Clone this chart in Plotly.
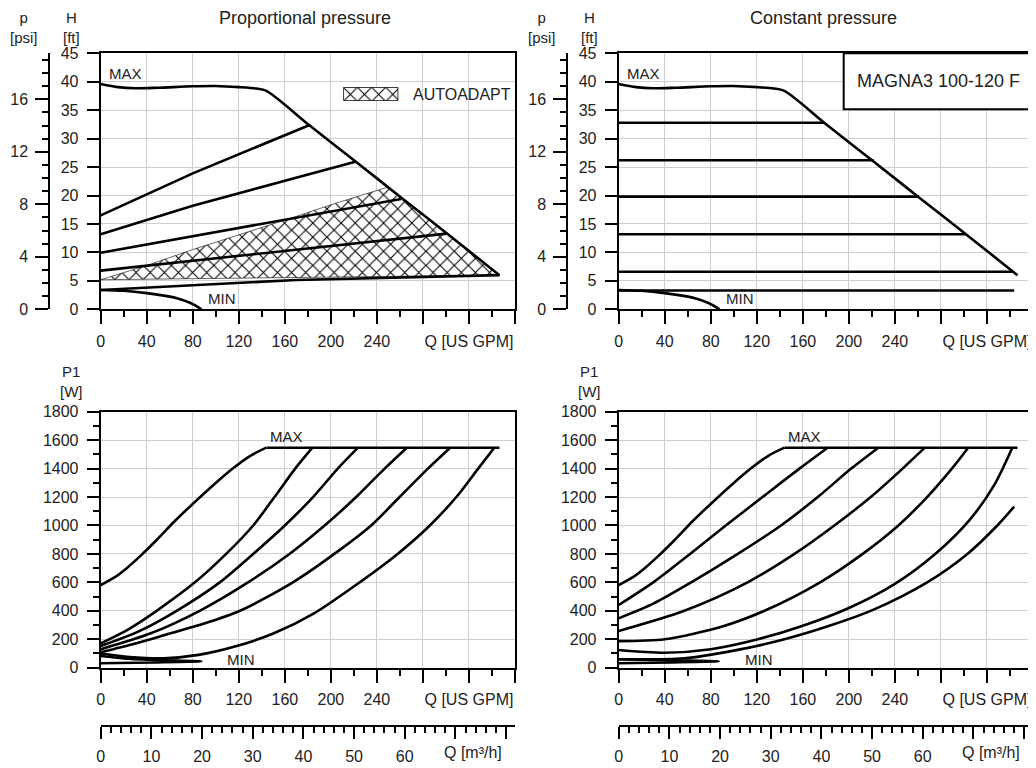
import plotly.graph_objects as go

# ---------------- data ----------------
# Q in US GPM, H in ft, P1 in W
Q_MAX = 360
FT_PER_PSI = 2.3067
GPM_PER_M3H = 4.4029

# H-Q, MAX curve (same on both top charts)
max_q = [0, 15, 30, 50, 80, 100, 120, 135, 144, 181.6, 222, 262.6, 301.7, 346.5]
max_h = [39.6, 39.05, 38.85, 38.95, 39.2, 39.25, 39.05, 38.8, 38.4, 32.3, 25.9, 19.4, 13.2, 6.0]

# H-Q, MIN curve
min_q = [0, 20, 40, 55, 67, 78, 87.6]
min_h = [3.4, 3.25, 2.85, 2.4, 1.9, 1.1, 0]

# proportional pressure curves
prop_q = [
    [0, 80, 181.6],
    [0, 80, 222],
    [0, 161, 261],
    [0, 150, 300.5],
    [0, 170, 346.5],
]
prop_h = [
    [16.5, 23.9, 32.4],
    [13.2, 18.2, 26.0],
    [9.95, 15.7, 19.4],
    [6.8, 10.1, 13.3],
    [3.4, 5.15, 6.0],
]

# AUTOADAPT area
auto_q = [0, 40, 80, 125, 165, 205, 250, 346.5, 0]
auto_h = [5.2, 7.7, 10.5, 13.4, 16.0, 18.7, 21.5, 6.0, 5.2]

# constant pressure curves
const_h = [32.8, 26.2, 19.8, 13.2, 6.6, 3.3]
const_q_end = [178.5, 221.5, 261, 301.5, 342, 343.6]

# P1-Q, MAX curve (rising part, then flat limit)
pmax_q = [0, 12, 22.6, 35, 48.6, 64, 80.4, 98, 115, 130, 144]
pmax_p = [581, 635, 700, 790, 898, 1028, 1155, 1285, 1402, 1490, 1547]
plim_q = [144, 346.5]
plim_p = [1547, 1547]

# P1-Q, proportional pressure
pprop_q = [
    [0, 24, 48.6, 81.9, 109, 132.5, 151, 169, 184],
    [0, 33, 66, 103.5, 132.5, 160, 184.5, 206, 223.6],
    [0, 43, 86, 128, 164, 194.6, 222, 246.7, 266],
    [0, 30, 60, 90, 121, 167, 203, 235, 259.7, 284.3, 303.7],
    [0, 25, 55, 85, 115, 150, 185, 225, 258, 286, 309, 328, 342],
]
pprop_p = [
    [171, 270, 400, 600, 800, 1000, 1200, 1400, 1547],
    [152, 255, 400, 600, 800, 1000, 1200, 1400, 1547],
    [130, 240, 400, 600, 800, 1000, 1200, 1400, 1547],
    [108, 170, 240, 310, 400, 600, 800, 1000, 1200, 1400, 1547],
    [100, 75, 66, 90, 145, 240, 380, 600, 800, 1000, 1200, 1400, 1547],
]

# P1-Q, constant pressure
pconst_q = [
    [0, 30, 62, 93, 125, 157, 181.6],
    [0, 30, 63, 103.5, 141, 173, 202, 225.6],
    [0, 57, 112, 152.7, 187.4, 219, 246.7, 266],
    [0, 40, 90, 126.7, 175, 212, 243, 268, 289.5, 303.7],
    [0, 40, 80, 121, 160, 200, 240, 275, 305, 326, 342],
    [0, 57, 100, 144, 185, 222, 268, 303, 329, 343.6],
]
pconst_p = [
    [441, 600, 800, 1000, 1200, 1400, 1547],
    [347, 450, 600, 800, 1000, 1200, 1400, 1547],
    [258, 400, 600, 800, 1000, 1200, 1400, 1547],
    [187, 200, 290, 400, 600, 800, 1000, 1200, 1400, 1547],
    [124, 105, 130, 200, 295, 420, 590, 800, 1040, 1280, 1547],
    [59, 66, 120, 200, 300, 410, 600, 800, 1000, 1132],
]

# P1-Q, MIN curve (closed wedge)
pmin_q_left = [0, 20, 45, 87.6, 45, 0]
pmin_p_left = [82, 65, 55, 45, 37, 31]
pmin_q_right = [0, 45, 87, 45, 0]
pmin_p_right = [59, 52, 45, 37, 31]

gpm_ticks = [0, 40, 80, 120, 160, 200, 240, 280, 320, 360]
gpm_text = ['0', '40', '80', '120', '160', '200', '240', '', 'Q [US GPM]', '']
m3h_ticks = [0, 10, 20, 30, 40, 50, 60, 70, 80]
m3h_text = ['0', '10', '20', '30', '40', '50', '60', '', '']

# ---------------- figure ----------------
# the page adds an 8 px body margin, so the figure is 8 px smaller and
# positions below are given in window pixels
PAGE = 8
W, H = 1036 - PAGE, 768 - PAGE
FONT = 'Liberation Sans, Arial, sans-serif'
TXT = '#222'


def px_x(p):
    return (p - PAGE) / W


def px_y(p):
    return 1 - (p - PAGE) / H


fig = go.Figure()


def curve(x, y, xa, ya, smooth=True):
    fig.add_trace(go.Scatter(
        x=x, y=y, mode='lines', xaxis=xa, yaxis=ya,
        line=dict(color='black', width=2.6,
                  shape='spline' if smooth else 'linear', smoothing=0.8),
        showlegend=False, hoverinfo='skip'
    ))


def ghost(x, y, xa, ya):
    # invisible trace that ties a secondary scale (psi, m3/h) to its subplot
    fig.add_trace(go.Scatter(x=x, y=y, xaxis=xa, yaxis=ya, mode='lines',
                             line=dict(width=0), opacity=0,
                             showlegend=False, hoverinfo='skip'))


# AUTOADAPT area (drawn first so the curves sit on top)
pattern = dict(shape='x', size=10, solidity=0.2, fgcolor='black', bgcolor='white')
fig.add_trace(go.Scatter(
    x=auto_q, y=auto_h, xaxis='x', yaxis='y', mode='lines',
    fill='toself', fillcolor='white', fillpattern=pattern,
    line=dict(color='black', width=0.6),
    name='AUTOADAPT', showlegend=False, hoverinfo='skip'
))

# top left: proportional pressure
curve(max_q, max_h, 'x', 'y')
curve(min_q, min_h, 'x', 'y')
for q, h in zip(prop_q, prop_h):
    curve(q, h, 'x', 'y', smooth=False)

# top right: constant pressure
curve(max_q, max_h, 'x2', 'y2')
curve(min_q, min_h, 'x2', 'y2')
for h, qe in zip(const_h, const_q_end):
    curve([0, qe], [h, h], 'x2', 'y2', smooth=False)

# bottom left: power, proportional
curve(pmax_q, pmax_p, 'x3', 'y3')
curve(plim_q, plim_p, 'x3', 'y3', smooth=False)
for q, p in zip(pprop_q, pprop_p):
    curve(q, p, 'x3', 'y3')
curve(pmin_q_left, pmin_p_left, 'x3', 'y3')

# bottom right: power, constant
curve(pmax_q, pmax_p, 'x4', 'y4')
curve(plim_q, plim_p, 'x4', 'y4', smooth=False)
for q, p in zip(pconst_q, pconst_p):
    curve(q, p, 'x4', 'y4')
curve(pmin_q_right, pmin_p_right, 'x4', 'y4')

# secondary scales
max_psi = [h / FT_PER_PSI for h in max_h]
ghost(max_q, max_psi, 'x', 'y5')
ghost(max_q, max_psi, 'x2', 'y6')
plim_m3h = [q / GPM_PER_M3H for q in plim_q]
ghost(plim_m3h, plim_p, 'x5', 'y3')
ghost(plim_m3h, plim_p, 'x6', 'y4')

# legend key for AUTOADAPT (unit square on its own hidden axes)
fig.add_trace(go.Scatter(
    x=[0, 1, 1, 0, 0], y=[0, 0, 1, 1, 0], xaxis='x7', yaxis='y7', mode='lines',
    fill='toself', fillcolor='white', fillpattern=pattern,
    line=dict(color='black', width=1.5), showlegend=False, hoverinfo='skip'
))

# ---------------- axes ----------------
XL = [px_x(100.7), px_x(515)]
XR = [px_x(618.7), px_x(1033)]
YT = [px_y(309.3), px_y(53.3)]
YB = [px_y(667.7), px_y(411.7)]

tickfont = dict(family=FONT, size=16, color=TXT)
grid = '#cfcfcf'


def gpm_axis(domain, anchor):
    return dict(
        domain=domain, anchor=anchor, range=[0, Q_MAX],
        tickvals=gpm_ticks, ticktext=gpm_text,
        showgrid=True, gridcolor=grid, gridwidth=1,
        showline=True, linecolor='black', linewidth=2, mirror=True,
        ticks='outside', ticklen=13, tickwidth=2, tickcolor='black',
        minor=dict(dtick=20, ticks='outside', ticklen=6, tickwidth=1.5,
                   tickcolor='black', showgrid=False),
        tickfont=tickfont, ticklabelstandoff=3, zeroline=False,
        automargin=False, fixedrange=True
    )


def val_axis(domain, anchor, rng, dtick, minor=None):
    ax = dict(
        domain=domain, anchor=anchor, range=rng, dtick=dtick, tick0=0,
        showgrid=True, gridcolor=grid, gridwidth=1,
        showline=True, linecolor='black', linewidth=2, mirror=True,
        ticks='outside', ticklen=12, tickwidth=2, tickcolor='black',
        tickfont=tickfont, ticklabelstandoff=5, zeroline=False,
        automargin=False, fixedrange=True
    )
    if minor:
        ax['minor'] = dict(dtick=minor, ticks='outside', ticklen=6, tickwidth=1.5,
                           tickcolor='black', showgrid=False)
    return ax


def psi_axis(overlay, pos):
    return dict(
        overlaying=overlay, anchor='free', position=pos, side='left',
        range=[0, 45 / FT_PER_PSI], tickvals=[0, 4, 8, 12, 16],
        showgrid=False, showline=True, linecolor='black', linewidth=2,
        ticks='outside', ticklen=13, tickwidth=2, tickcolor='black',
        minor=dict(dtick=1, ticks='outside', ticklen=6, tickwidth=1.5, tickcolor='black'),
        tickfont=tickfont, ticklabelstandoff=4, zeroline=False,
        automargin=False, fixedrange=True
    )


def m3h_axis(overlay):
    return dict(
        overlaying=overlay, anchor='free', position=px_y(725.7), side='bottom',
        range=[0, Q_MAX / GPM_PER_M3H], tickvals=m3h_ticks, ticktext=m3h_text,
        showgrid=False, showline=True, linecolor='black', linewidth=2,
        ticks='outside', ticklen=12, tickwidth=2, tickcolor='black',
        minor=dict(dtick=2, ticks='outside', ticklen=6, tickwidth=1.5, tickcolor='black'),
        tickfont=tickfont, ticklabelstandoff=4, zeroline=False,
        automargin=False, fixedrange=True
    )


hidden = dict(visible=False, range=[0, 1], fixedrange=True, automargin=False)

fig.update_layout(
    template='none',
    width=W, height=H,
    margin=dict(l=0, r=0, t=0, b=0, autoexpand=False),
    paper_bgcolor='white', plot_bgcolor='white',
    font=dict(family=FONT, size=16, color=TXT),
    xaxis=gpm_axis(XL, 'y'),
    yaxis=val_axis(YT, 'x', [0, 45], 5),
    xaxis2=gpm_axis(XR, 'y2'),
    yaxis2=val_axis(YT, 'x2', [0, 45], 5),
    xaxis3=gpm_axis(XL, 'y3'),
    yaxis3=val_axis(YB, 'x3', [0, 1800], 200, 100),
    xaxis4=gpm_axis(XR, 'y4'),
    yaxis4=val_axis(YB, 'x4', [0, 1800], 200, 100),
    yaxis5=psi_axis('y', px_x(49.3)),
    yaxis6=psi_axis('y2', px_x(567.3)),
    xaxis5=m3h_axis('x3'),
    xaxis6=m3h_axis('x4'),
    xaxis7=dict(domain=[px_x(343.3), px_x(398.3)], anchor='y7', **hidden),
    yaxis7=dict(domain=[px_y(100.7), px_y(87.3)], anchor='x7', **hidden),
    showlegend=False,
)

# ---------------- texts ----------------
def note(text, x, y, xref='paper', yref='paper', size=16, xanchor='center', yanchor='middle'):
    fig.add_annotation(text=text, x=x, y=y, xref=xref, yref=yref, showarrow=False,
                       xanchor=xanchor, yanchor=yanchor, borderpad=0,
                       font=dict(family=FONT, size=size, color=TXT))


note('Proportional pressure', px_x(305), px_y(18), size=18)
note('Constant pressure', px_x(823), px_y(18), size=18)
for off in (0, 518):
    note('p<br>[psi]', px_x(24 + off), px_y(8.2), size=15, yanchor='top')
    note('H<br>[ft]', px_x(71.7 + off), px_y(8.2), size=15, yanchor='top')
    note('P1<br>[W]', px_x(71.7 + off), px_y(381), size=15)

for xa, ya in (('x', 'y'), ('x2', 'y2')):
    note('MAX', 6.5, 41.4, xa, ya, size=15, xanchor='left')
    note('MIN', 92, 1.95, xa, ya, size=15, xanchor='left')
for xa, ya in (('x3', 'y3'), ('x4', 'y4')):
    note('MAX', 161.5, 1629, xa, ya, size=15)
    note('MIN', 121.5, 61, xa, ya, size=15)
for xa in ('x5', 'x6'):
    note('Q [m³/h]', 73.5, px_y(752), xa, 'paper')

note('AUTOADAPT', px_x(411.7), px_y(94), size=16, xanchor='left')

# model box
fig.add_shape(type='rect', xref='paper', yref='paper',
              x0=px_x(843.7), x1=px_x(1033), y0=px_y(109.3), y1=px_y(53.3),
              line=dict(color='black', width=2), fillcolor='white')
note('MAGNA3 100-120 F', px_x(938.3), px_y(81.3), size=18)

fig.write_html("out.html")
